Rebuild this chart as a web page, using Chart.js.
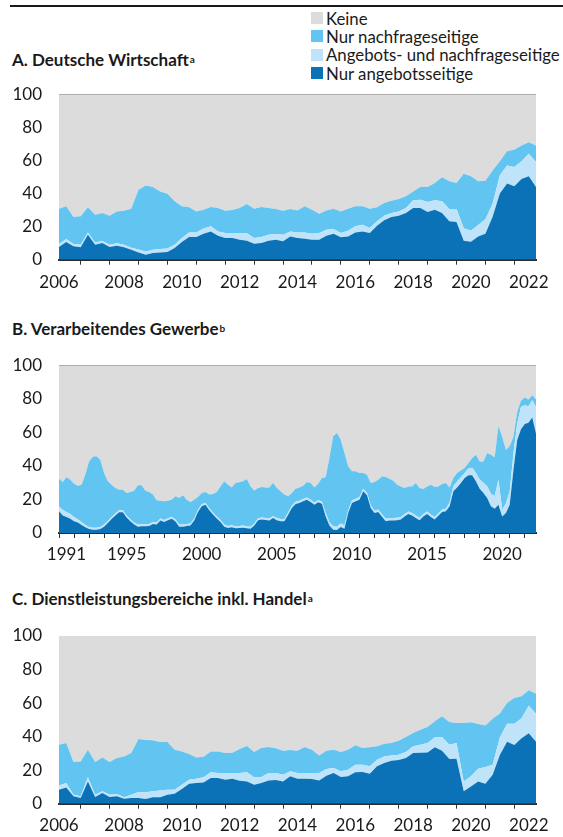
<!DOCTYPE html>
<html><head><meta charset="utf-8">
<script src="https://cdn.jsdelivr.net/npm/chart.js@4/dist/chart.umd.min.js"></script>
<style>
html,body{margin:0;padding:0;background:#fff;}
body{width:563px;height:837px;position:relative;overflow:hidden;font-family:Lato,"Noto Sans",sans-serif;color:#1a1a1a;}
.rule{position:absolute;left:10px;top:5px;width:553px;height:2px;background:#1a1a1a;}
.legend{position:absolute;left:311px;top:9px;font-size:16.8px;}
.legend div{display:flex;align-items:center;height:18.3px;white-space:nowrap;}
.legend .sw{display:inline-block;width:12px;height:12px;margin-right:3px;}
.title{position:absolute;left:12px;font-weight:bold;font-size:17px;line-height:20px;white-space:nowrap;}
.title sup{font-size:10px;vertical-align:top;position:relative;top:-1px;margin-left:1px;}
canvas{position:absolute;left:0;}
</style></head>
<body>
<div class="rule"></div>
<div class="legend">
  <div><span class="sw" style="background:#dcdcdc"></span>Keine</div>
  <div><span class="sw" style="background:#62c5f1"></span>Nur nachfrageseitige</div>
  <div><span class="sw" style="background:#bfe3f8"></span>Angebots- und nachfrageseitige</div>
  <div><span class="sw" style="background:#0b72b8"></span>Nur angebotsseitige</div>
</div>
<div class="title" style="top:50px">A. Deutsche Wirtschaft<sup>a</sup></div>
<div class="title" style="top:319px">B. Verarbeitendes Gewerbe<sup>b</sup></div>
<div class="title" style="top:589px">C. Dienstleistungsbereiche inkl. Handel<sup>a</sup></div>
<canvas id="cA" width="563" height="215" style="top:80px"></canvas>
<canvas id="cB" width="563" height="215" style="top:350px"></canvas>
<canvas id="cC" width="563" height="217" style="top:620px"></canvas>
<script>
const FONT = 'Lato, "Noto Sans", sans-serif';
const seriesLabels = ['Nur angebotsseitige','Angebots- und nachfrageseitige','Nur nachfrageseitige','Keine'];
const seriesColors = ['#0b72b8','#bfe3f8','#62c5f1','#dcdcdc'];
const yTickValues = [0,20,40,60,80,100];

// Panel A: Deutsche Wirtschaft, quarterly, first quarter 2006
const aStart = 2006.25;
const aAngebot = [7.7,10.7,8.1,7.5,15.1,9.1,10.1,7.7,8.5,7.5,6.0,4.4,3.0,4.0,4.4,4.6,7.1,10.7,13.7,13.7,15.7,17.1,14.5,13.1,13.1,12.1,11.5,9.7,10.1,11.5,12.1,11.1,14.1,13.1,12.7,12.1,12.1,14.5,15.7,13.5,14.1,16.5,17.1,16.1,20.6,23.8,25.8,26.6,28.2,31.3,31.3,28.8,30.2,28.2,23.2,22.8,11.5,10.8,14.0,15.7,26.0,40.0,46.0,44.4,48.8,50.4,44.0];
const aBeide = [1.8,1.8,1.4,1.6,1.3,1.3,1.2,1.3,1.5,1.5,1.3,1.8,2.0,2.0,2.1,2.1,2.0,2.4,2.8,2.8,3.1,3.1,2.6,3.0,3.0,4.0,4.5,3.4,3.6,3.6,3.5,4.0,3.0,3.4,3.8,3.6,4.0,3.6,2.8,2.6,3.4,3.7,4.1,3.1,2.6,2.8,2.4,2.6,3.1,4.6,5.0,6.1,5.7,7.1,7.4,7.8,7.5,6.7,7.0,8.8,8.0,11.0,11.0,11.6,10.7,13.6,15.0];
const aNachfrage = [21.3,19.8,16.3,17.1,15.3,16.8,16.9,17.6,19.2,20.6,23.5,36.1,39.8,38.0,34.8,33.2,26.2,19.2,15.2,12.7,11.4,11.7,14.2,13.5,13.9,15.2,17.7,17.7,18.2,16.2,15.0,14.5,13.5,13.3,15.8,14.5,11.7,11.7,12.3,13.1,13.3,12.1,11.1,11.6,8.5,7.7,7.5,7.5,7.0,5.4,7.7,9.1,10.5,14.5,16.8,15.8,33.0,33.0,26.4,23.3,20.0,8.5,8.5,10.5,9.5,7.0,10.0];
const aKeine = [69.2,67.7,74.2,73.8,68.3,72.8,71.8,73.4,70.8,70.4,69.2,57.7,55.2,56.0,58.7,60.1,64.7,67.7,68.3,70.8,69.8,68.1,68.7,70.4,70.0,68.7,66.3,69.2,68.1,68.7,69.4,70.4,69.4,70.2,67.7,69.8,72.2,70.2,69.2,70.8,69.2,67.7,67.7,69.2,68.3,65.7,64.3,63.3,61.7,58.7,56.0,56.0,53.6,50.2,52.6,53.6,48.0,49.5,52.6,52.2,46.0,40.5,34.5,33.5,31.0,29.0,31.0];

// Panel B: Verarbeitendes Gewerbe, quarterly from 1991
const bStart = 1991.0;
const bAngebot = [13.0,10.5,9.5,8.5,7.0,6.2,4.8,3.4,2.4,2.0,2.0,2.4,3.8,6.0,8.4,10.5,12.3,12.3,9.3,7.0,5.0,3.8,4.0,4.0,4.2,5.4,5.0,7.4,6.6,7.6,8.5,6.8,3.8,3.8,4.2,4.4,7.4,12.5,15.9,16.9,13.5,11.0,8.6,6.5,3.8,3.0,3.4,2.8,3.0,3.2,2.8,2.6,4.4,7.6,8.0,7.8,7.4,8.9,7.6,7.0,7.0,10.9,14.9,17.3,17.9,18.9,19.9,18.5,16.9,18.3,17.5,9.9,4.4,2.0,1.8,3.6,2.6,11.9,17.9,18.9,19.9,24.9,22.5,14.9,11.9,12.5,9.7,7.0,7.4,7.4,7.6,8.0,9.9,11.3,10.5,8.9,7.6,9.9,11.3,9.5,8.0,10.3,12.5,12.9,15.9,24.9,27.2,29.8,32.8,34.4,34.4,30.8,26.4,23.9,20.9,15.9,14.5,16.8,9.9,11.9,16.8,37.6,55.4,61.8,65.0,65.7,68.9,59.4];
const bBeide = [2.8,3.2,3.0,2.8,2.5,2.0,1.8,1.5,1.2,1.2,1.2,1.2,1.2,1.2,1.2,1.2,1.2,1.2,1.2,1.2,1.2,1.2,1.2,1.2,1.2,1.2,1.2,1.2,1.2,1.2,1.2,1.2,1.2,1.2,1.2,1.2,1.2,1.2,1.2,1.2,1.2,1.2,1.2,1.2,1.2,1.2,1.2,1.2,1.2,1.2,1.2,1.2,1.2,1.2,1.2,1.2,1.3,1.3,1.3,1.3,1.3,1.3,1.3,1.3,1.3,1.3,1.3,1.3,1.3,1.3,1.3,2.0,2.0,2.0,2.0,2.0,2.0,1.5,1.5,1.5,1.5,1.5,1.5,1.5,1.5,1.5,1.5,1.5,1.5,1.5,1.5,1.5,1.5,1.5,1.5,1.5,1.5,1.5,1.5,1.5,1.5,1.5,1.5,1.5,2.5,3.0,3.5,3.5,3.0,4.0,4.5,5.0,5.5,6.0,7.0,7.5,7.5,15.0,4.0,5.9,8.0,9.9,9.9,13.4,11.2,9.9,10.3,15.8];
const bNachfrage = [16.6,16.7,20.9,20.5,19.9,20.0,22.2,29.9,39.1,42.3,42.5,40.1,30.8,23.6,19.2,15.1,12.3,12.3,13.4,16.3,19.0,23.4,23.2,20.0,19.1,16.3,13.3,10.7,11.1,10.5,10.2,13.9,15.9,17.5,14.5,12.9,11.3,7.8,6.8,6.4,8.2,11.1,14.7,20.1,25.8,24.6,22.6,25.8,26.0,26.4,28.2,24.0,19.8,18.0,18.2,18.2,18.5,19.8,17.9,16.6,14.6,9.7,7.7,7.8,8.0,8.0,9.2,10.0,9.0,9.8,14.0,21.3,38.3,53.7,55.8,50.1,43.1,26.4,17.4,16.4,14.4,9.4,10.8,13.4,17.0,17.8,22.6,24.9,23.5,22.3,19.7,18.3,15.4,15.0,15.8,19.4,17.7,14.8,15.0,17.8,18.1,16.0,15.2,15.4,8.8,5.1,5.1,3.9,3.0,3.3,5.8,10.9,10.8,12.8,19.8,23.3,23.1,31.8,43.5,31.7,27.1,9.9,7.0,3.6,4.6,4.0,3.0,4.4];
const bKeine = [67.6,69.6,66.6,68.2,70.6,71.8,71.2,65.2,57.3,54.5,54.3,56.3,64.2,69.2,71.2,73.2,74.2,74.2,76.1,75.5,74.8,71.6,71.6,74.8,75.5,77.1,80.5,80.7,81.1,80.7,80.1,78.1,79.1,77.5,80.1,81.5,80.1,78.5,76.1,75.5,77.1,76.7,75.5,72.2,69.2,71.2,72.8,70.2,69.8,69.2,67.8,72.2,74.6,73.2,72.6,72.8,72.8,70.0,73.2,75.1,77.1,78.1,76.1,73.6,72.8,71.8,69.6,70.2,72.8,70.6,67.2,66.8,55.3,42.3,40.4,44.3,52.3,60.2,63.2,63.2,64.2,64.2,65.2,70.2,69.6,68.2,66.2,66.6,67.6,68.8,71.2,72.2,73.2,72.2,72.2,70.2,73.2,73.8,72.2,71.2,72.4,72.2,70.8,70.2,72.8,67.0,64.2,62.8,61.2,58.3,55.3,53.3,57.3,57.3,52.3,53.3,54.9,36.4,42.6,50.5,48.1,42.6,27.7,21.2,19.2,20.4,17.8,20.4];

// Panel C: Dienstleistungsbereiche inkl. Handel, quarterly, first quarter 2006
const cStart = 2006.25;
const cAngebot = [8.3,9.7,4.4,3.4,13.3,4.0,6.4,4.0,4.4,3.0,3.4,3.4,2.8,3.8,3.8,5.4,6.0,8.7,11.9,12.3,12.7,15.3,15.3,14.3,14.9,13.7,13.3,11.3,12.3,13.9,14.1,13.3,16.3,14.9,14.9,14.7,13.9,16.7,18.3,15.9,16.3,18.7,18.9,17.9,22.3,24.3,25.6,26.0,27.2,30.2,30.4,30.6,33.6,31.6,26.6,26.8,7.4,10.3,13.3,11.9,17.3,29.0,37.0,35.0,39.0,42.0,37.0];
const cBeide = [2.6,2.6,1.0,1.0,2.4,1.4,1.0,1.4,1.4,0.8,2.0,3.6,4.0,3.6,4.0,2.9,2.3,2.6,2.4,2.6,3.0,3.4,3.0,4.0,3.4,4.6,5.4,4.4,3.6,4.4,4.2,4.0,3.0,3.4,3.4,3.6,4.4,4.0,3.0,3.4,4.0,4.6,4.4,4.4,3.9,3.9,3.2,3.2,3.6,4.0,4.8,5.6,6.0,8.2,8.6,9.4,5.9,6.0,7.6,10.0,6.0,10.5,10.6,12.6,12.0,16.4,16.6];
const cNachfrage = [24.3,23.9,19.5,20.8,16.5,19.5,20.2,19.5,21.4,24.4,24.8,31.6,31.2,30.4,29.0,28.5,23.9,19.9,15.3,12.7,12.3,12.5,12.9,11.9,12.1,14.3,15.7,15.1,17.3,15.5,14.7,14.3,12.7,13.3,15.5,13.9,10.5,10.9,10.9,11.5,11.9,11.5,9.9,11.3,8.0,7.6,7.4,8.4,9.0,7.9,8.9,9.5,9.5,12.3,13.5,11.9,34.8,32.2,26.6,24.8,27.4,14.3,12.4,15.4,13.0,9.2,12.0];
const cKeine = [64.8,63.8,75.1,74.8,67.8,75.1,72.4,75.1,72.8,71.8,69.8,61.4,62.0,62.2,63.2,63.2,67.8,68.8,70.4,72.4,72.0,68.8,68.8,69.8,69.6,67.4,65.6,69.2,66.8,66.2,67.0,68.4,68.0,68.4,66.2,67.8,71.2,68.4,67.8,69.2,67.8,65.2,66.8,66.4,65.8,64.2,63.8,62.4,60.2,57.9,55.9,54.3,50.9,47.9,51.3,51.9,51.9,51.5,52.5,53.3,49.3,46.2,40.0,37.0,36.0,32.4,34.4];

// x-axis labels
const abYearLabels = [2006,2008,2010,2012,2014,2016,2018,2020,2022];
const bYearLabels = [1991,1995,2000,2005,2010,2015,2020];

function quarterX(start, n){ const a=[]; for(let i=0;i<n;i++) a.push(start + i*0.25); return a; }

function makeChart(id, start, seriesValues, cfg){
  const xs = quarterX(start, seriesValues[0].length);
  const datasets = seriesValues.map((vals, j) => ({
    label: seriesLabels[j],
    data: vals.map((v,i) => ({x: xs[i], y: v})),
    backgroundColor: seriesColors[j],
    borderColor: seriesColors[j],
    borderWidth: 0,
    pointRadius: 0,
    tension: 0,
    fill: j === 0 ? 'origin' : '-1'
  }));
  const xmax = xs[xs.length-1];
  // tick marks at year boundaries, labels at year centres
  const tickVals = [];
  for (let y = Math.ceil(start); y <= Math.floor(xmax); y++) tickVals.push(y);
  const labelMap = new Map();
  cfg.labels.forEach(y => {
    let pos = y + 0.5;
    if (pos - 0.5 < start) pos = start;
    labelMap.set(pos, String(y));
  });
  const allTicks = Array.from(new Set(tickVals.concat(Array.from(labelMap.keys())))).sort((a,b)=>a-b);
  new Chart(document.getElementById(id), {
    type: 'line',
    data: { datasets },
    options: {
      responsive: false, animation: false, events: [],
      layout: { padding: { top: cfg.padTop, right: 27, left: 0, bottom: 0 } },
      plugins: { legend: { display: false }, tooltip: { enabled: false } },
      scales: {
        x: {
          type: 'linear', min: start, max: xmax, z: 1,
          afterBuildTicks: sc => { sc.ticks = allTicks.map(v => ({ value: v })); },
          afterFit: sc => { sc.height = cfg.xHeight; },
          ticks: { autoSkip: false, maxRotation: 0, padding: cfg.xPad, color: '#1a1a1a',
            font: { family: FONT, size: 17 },
            callback: v => labelMap.has(v) ? labelMap.get(v) : '' },
          grid: { drawOnChartArea: false, drawTicks: true, tickLength: 5, tickWidth: 1,
            tickColor: c => (c.tick && Number.isInteger(c.tick.value) && !labelMap.has(c.tick.value)) ? '#333333' : 'rgba(0,0,0,0)' },
          border: { display: true, color: '#2b2b2b', width: 2 }
        },
        y: {
          stacked: true, min: 0, max: 100, z: 1,
          afterBuildTicks: sc => { sc.ticks = yTickValues.map(v => ({ value: v })); },
          afterFit: sc => { sc.width = 59; },
          ticks: { padding: 0, color: '#1a1a1a', font: { family: FONT, size: 17 } },
          grid: { drawTicks: true, tickLength: 17, tickColor: 'rgba(0,0,0,0)', lineWidth: 1,
            color: c => (c.tick && c.tick.value === 100) ? '#8a8a8a' : 'rgba(0,0,0,0)' },
          border: { display: false }
        }
      }
    }
  });
}

makeChart('cA', aStart, [aAngebot, aBeide, aNachfrage, aKeine], { labels: abYearLabels, padTop: 14.3, xHeight: 35.3, xPad: 8 });
makeChart('cB', bStart, [bAngebot, bBeide, bNachfrage, bKeine], { labels: bYearLabels, padTop: 15.3, xHeight: 32, xPad: 6 });
makeChart('cC', cStart, [cAngebot, cBeide, cNachfrage, cKeine], { labels: abYearLabels, padTop: 16, xHeight: 33.3, xPad: 7 });
</script>
</body></html>
